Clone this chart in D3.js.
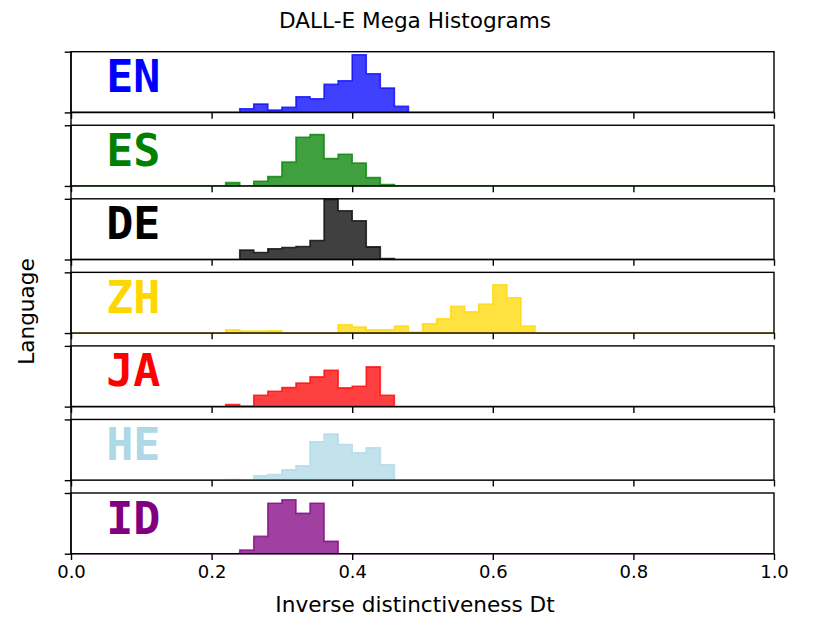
<!DOCTYPE html>
<html>
<head>
<meta charset="utf-8">
<script src="https://cdn.jsdelivr.net/npm/d3@7"></script>
<style>
  html, body { margin: 0; padding: 0; background: #fff; }
  svg { display: block; }
</style>
</head>
<body>
<svg id="chart" width="830" height="623"></svg>
<script>
// ---- data (density per bin of width 0.02) ----
const languages = ["EN", "ES", "DE", "ZH", "JA", "HE", "ID"];
const colors = ["#0000ff", "#008000", "#000000", "#ffd700", "#ff0000", "#add8e6", "#800080"];
const binWidth = 0.02;
const starts = [0.24, 0.22, 0.24, 0.22, 0.22, 0.22, 0.24];
const EN = [0.79, 1.79, 0.50, 1.07, 3.36, 2.93, 6.00, 6.79, 12.36, 8.29, 5.21, 1.29];
const ES = [0.71, 0, 1.00, 2.00, 5.14, 10.43, 11.00, 5.86, 6.79, 4.93, 1.79, 0.29];
const DE = [2.00, 1.50, 2.29, 2.57, 2.79, 4.07, 12.86, 10.43, 8.29, 2.71, 0.21];
const ZH = [0.71, 0.43, 0.43, 0.50, 0, 0, 0, 0, 1.79, 1.29, 0.71, 0.71, 1.50, 0.21, 2.00, 3.07, 5.71, 4.57, 6.21, 10.36, 7.57, 1.50];
const JA = [0.43, 0.14, 2.43, 3.29, 4.07, 5.07, 6.36, 7.79, 4.00, 4.36, 8.50, 2.43];
const HE = [0.14, 0, 0.93, 1.21, 2.21, 3.07, 8.21, 9.86, 7.64, 5.86, 6.93, 3.29];
const ID = [0.79, 3.71, 10.79, 11.57, 8.64, 10.79, 2.64];
const series = [EN, ES, DE, ZH, JA, HE, ID];
const xTicks = [0.0, 0.2, 0.4, 0.6, 0.8, 1.0];
const yMax = 13.0;

// ---- layout ----
const svg = d3.select("#chart");
const left = 71, right = 774;
const top0 = 51.7, panelH = 60.7, step = 73.55;
const tickLen = 6.3, lw = 1.4;
const x = d3.scaleLinear().domain([0, 1]).range([left, right]);
const nBins = Math.round(1 / binWidth);

svg.append("text")
  .attr("x", 415).attr("y", 28.3)
  .attr("text-anchor", "middle")
  .attr("font-family", "DejaVu Sans")
  .attr("font-size", 21.6)
  .text("DALL-E Mega Histograms");

languages.forEach((lang, i) => {
  const pTop = top0 + i * step;
  const pBot = pTop + panelH;
  const y = d3.scaleLinear().domain([0, yMax]).range([pBot, pTop]);
  const g = svg.append("g");

  // full bins over [0,1], zeros outside the data
  const vals = series[i];
  const si = Math.round(starts[i] / binWidth);
  const bins = d3.range(nBins).map(k => {
    const v = (k >= si && k < si + vals.length) ? vals[k - si] : 0;
    return { x0: k * binWidth, x1: (k + 1) * binWidth, v };
  });
  const pts = [[x(0), y(0)]];
  bins.forEach(b => { pts.push([x(b.x0), y(b.v)]); pts.push([x(b.x1), y(b.v)]); });
  pts.push([x(1), y(0)]);
  g.append("path")
    .attr("d", d3.line()(pts) + "Z")
    .attr("fill", colors[i]).attr("fill-opacity", 0.75)
    .attr("stroke", colors[i]).attr("stroke-opacity", 0.75)
    .attr("stroke-width", 1.6).attr("stroke-linejoin", "miter");

  // frame
  g.append("rect")
    .attr("x", left).attr("y", pTop)
    .attr("width", right - left).attr("height", panelH)
    .attr("fill", "none").attr("stroke", "#000").attr("stroke-width", lw);

  // x ticks
  const xa = d3.axisBottom(x).tickValues(xTicks).tickSizeInner(tickLen).tickSizeOuter(0)
    .tickPadding(5.5).tickFormat(i === languages.length - 1 ? d3.format(".1f") : () => "");
  const ax = g.append("g").attr("transform", `translate(0,${pBot})`).call(xa);
  ax.select(".domain").remove();
  ax.selectAll("line").attr("stroke", "#000").attr("stroke-width", lw);
  ax.selectAll("text").attr("font-family", "DejaVu Sans").attr("font-size", 18).attr("fill", "#000");

  // y ticks (no labels)
  const ya = d3.axisLeft(y).tickValues([0, yMax]).tickSizeInner(tickLen).tickSizeOuter(0).tickFormat(() => "");
  const ay = g.append("g").attr("transform", `translate(${left},0)`).call(ya);
  ay.select(".domain").remove();
  ay.selectAll("line").attr("stroke", "#000").attr("stroke-width", lw);

  // language label
  g.append("text")
    .attr("x", x(0.05)).attr("y", pTop + 40.5)
    .attr("font-family", "DejaVu Sans Mono")
    .attr("font-weight", "bold")
    .attr("font-size", 45)
    .attr("fill", colors[i])
    .text(lang);
});

// continuous left line through the gaps
svg.append("line")
  .attr("x1", left).attr("x2", left)
  .attr("y1", top0).attr("y2", top0 + 6 * step + panelH)
  .attr("stroke", "#000").attr("stroke-width", lw);

svg.append("text")
  .attr("x", 415).attr("y", 611.7)
  .attr("text-anchor", "middle")
  .attr("font-family", "DejaVu Sans")
  .attr("font-size", 21.6)
  .text("Inverse distinctiveness Dt");

svg.append("text")
  .attr("transform", "translate(33.5,311.5) rotate(-90)")
  .attr("text-anchor", "middle")
  .attr("font-family", "DejaVu Sans")
  .attr("font-size", 21.6)
  .text("Language");
</script>
</body>
</html>
